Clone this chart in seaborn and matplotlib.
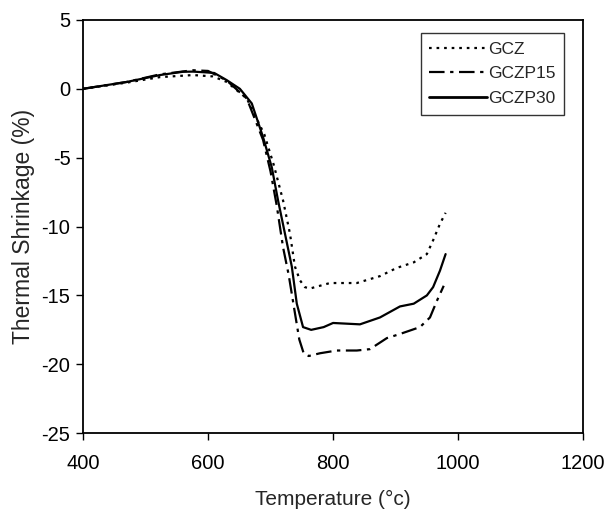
import matplotlib
matplotlib.use("Agg")
import matplotlib.pyplot as plt
import seaborn as sns
import pandas as pd

# ---- data ----
gcz_t = [400, 470, 523, 576, 608, 630, 662, 690, 705, 720, 731, 739, 747, 755, 763, 795, 838, 875, 902, 929, 950, 960, 971, 980]
gcz_v = [0, 0.45, 0.85, 1.0, 0.9, 0.5, -0.7, -3.3, -5.5, -8.1, -10.5, -12.9, -13.9, -14.4, -14.5, -14.1, -14.1, -13.6, -13.0, -12.6, -12.0, -11.0, -9.8, -9.0]

p15_t = [400, 470, 523, 576, 600, 630, 662, 688, 700, 710, 720, 729, 738, 746, 753, 761, 779, 806, 838, 859, 886, 907, 939, 955, 966, 977]
p15_v = [0, 0.5, 1.05, 1.35, 1.3, 0.6, -0.7, -3.7, -6.0, -8.5, -11.5, -13.5, -16.0, -18.2, -19.2, -19.4, -19.2, -19.0, -19.0, -18.9, -18.1, -17.8, -17.3, -16.6, -15.4, -14.3]

p30_t = [400, 470, 523, 560, 576, 595, 610, 630, 651, 670, 688, 702, 712, 723, 734, 742, 752, 765, 785, 800, 843, 875, 907, 929, 950, 960, 971, 980]
p30_v = [0, 0.5, 1.0, 1.24, 1.25, 1.2, 1.15, 0.63, 0.0, -1.06, -3.5, -5.7, -8.1, -10.5, -12.9, -15.6, -17.3, -17.5, -17.3, -17.0, -17.1, -16.6, -15.8, -15.6, -15.0, -14.4, -13.2, -12.0]

series_names = ["GCZ", "GCZP15", "GCZP30"]
x_ticks = [400, 600, 800, 1000, 1200]
y_ticks = [-25, -20, -15, -10, -5, 0, 5]

frames = []
for name, t, v in zip(series_names, [gcz_t, p15_t, p30_t], [gcz_v, p15_v, p30_v]):
    frames.append(pd.DataFrame({"Temperature": t, "Shrinkage": v, "Sample": name}))
df = pd.concat(frames, ignore_index=True)

sns.set_style("ticks")
plt.rcParams["font.family"] = ["Liberation Sans", "DejaVu Sans"]
plt.rcParams["axes.unicode_minus"] = False

fig = plt.figure(figsize=(6.1, 5.12), dpi=100)
ax = fig.add_axes([0.136, 0.154, 0.820, 0.807])

dashes = {"GCZ": (1.2, 2.2), "GCZP15": (7, 2.5, 1.5, 2.5), "GCZP30": ""}
sns.lineplot(data=df, x="Temperature", y="Shrinkage", hue="Sample", style="Sample",
             hue_order=series_names, style_order=series_names,
             palette={n: "black" for n in series_names}, dashes=dashes,
             sort=False, estimator=None, ax=ax, linewidth=1.6)
for line in ax.get_lines():
    if line.get_label() == "GCZP30":
        line.set_linewidth(2.0)

ax.set_xlim(400, 1200)
ax.set_ylim(-25, 5)
ax.set_xticks(x_ticks)
ax.set_yticks(y_ticks)
ax.tick_params(axis="both", direction="out", length=5, width=1, labelsize=14.5, colors="black")
ax.tick_params(axis="x", pad=10)
ax.tick_params(axis="y", pad=4)
for s in ax.spines.values():
    s.set_visible(True)
    s.set_linewidth(1.3)
    s.set_color("black")

ax.set_xlabel("Temperature (°c)", fontsize=15, labelpad=12)
ax.set_ylabel("Thermal Shrinkage (%)", fontsize=16.5, labelpad=5)

leg = ax.legend(loc="upper right", bbox_to_anchor=(0.98, 0.99), fontsize=12.5,
                frameon=True, fancybox=False, edgecolor="black", handlelength=3.3,
                handletextpad=0.1, borderpad=0.5, labelspacing=0.55, title=None)
leg.get_frame().set_linewidth(1.0)
for h in leg.get_lines():
    h.set_color("black")

fig.savefig("out.png", dpi=100)
